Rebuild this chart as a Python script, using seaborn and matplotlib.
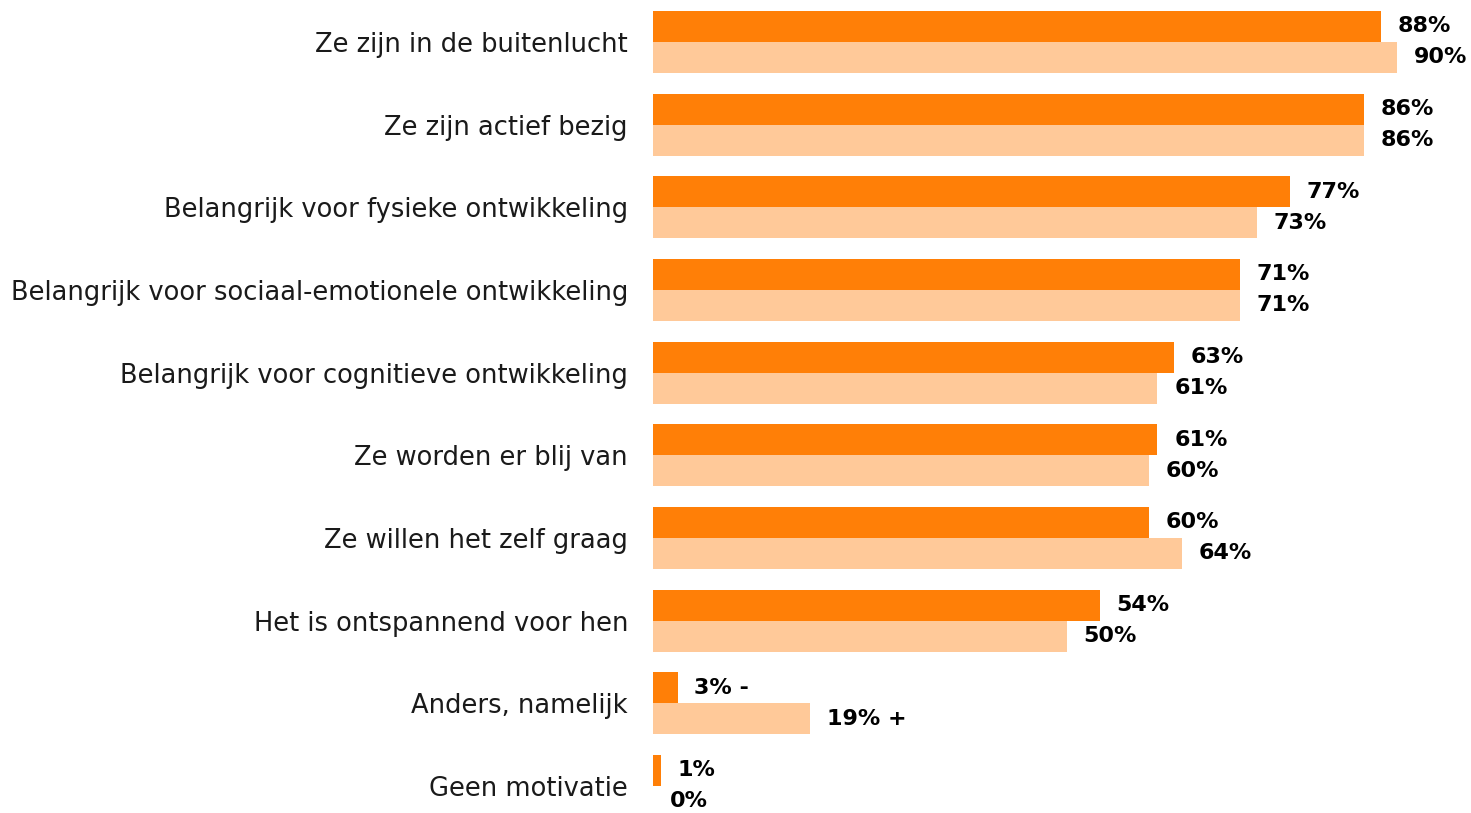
import matplotlib
matplotlib.use("Agg")
import matplotlib.pyplot as plt
import seaborn as sns
import pandas as pd

categories = [
    "Ze zijn in de buitenlucht",
    "Ze zijn actief bezig",
    "Belangrijk voor fysieke ontwikkeling",
    "Belangrijk voor sociaal-emotionele ontwikkeling",
    "Belangrijk voor cognitieve ontwikkeling",
    "Ze worden er blij van",
    "Ze willen het zelf graag",
    "Het is ontspannend voor hen",
    "Anders, namelijk",
    "Geen motivatie",
]
series_names = ["reeks 1", "reeks 2"]
values_1 = [88, 86, 77, 71, 63, 61, 60, 54, 3, 1]
values_2 = [90, 86, 73, 71, 61, 60, 64, 50, 19, 0]
suffix_1 = ["", "", "", "", "", "", "", "", " -", ""]
suffix_2 = ["", "", "", "", "", "", "", "", " +", ""]

colors = ["#FF7F07", "#FFC999"]

df = pd.DataFrame({
    "categorie": categories * 2,
    "reeks": [series_names[0]] * len(categories) + [series_names[1]] * len(categories),
    "waarde": values_1 + values_2,
})

sns.set_theme(style="white")
plt.rcParams["font.family"] = ["DejaVu Sans"]

fig = plt.figure(figsize=(14.71, 8.13), dpi=100)
ax = fig.add_axes([653 / 1471, 0, 1 - 653 / 1471, 1])

sns.barplot(data=df, x="waarde", y="categorie", hue="reeks", order=categories,
            hue_order=series_names, palette=colors, width=0.75, saturation=1,
            orient="h", ax=ax, legend=False, linewidth=0)

labels_1 = [f"{v}%{s}" for v, s in zip(values_1, suffix_1)]
labels_2 = [f"{v}%{s}" for v, s in zip(values_2, suffix_2)]
for cont, labs in zip(ax.containers, [labels_1, labels_2]):
    ax.bar_label(cont, labels=labs, padding=12, fontsize=16, fontweight="bold",
                 color="black")

ax.set_xlim(0, (1471 - 653) / 8.27)
ax.set_ylim(9.327, -0.508)
ax.set_xlabel("")
ax.set_ylabel("")
ax.set_xticks([])
ax.tick_params(axis="y", length=0, pad=18, labelsize=18.5, labelcolor="#1a1a1a")
for s in ax.spines.values():
    s.set_visible(False)

fig.savefig("out.png", dpi=100)
